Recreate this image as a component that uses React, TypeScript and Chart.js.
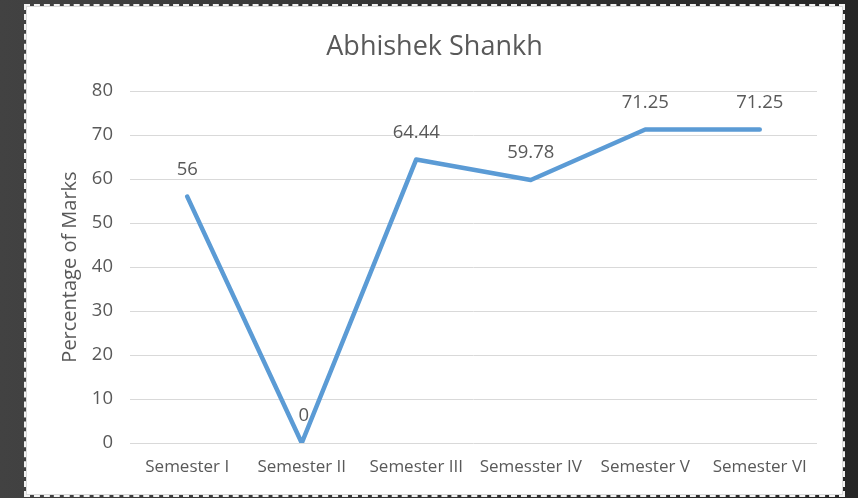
import React, { useEffect, useRef } from "react";
import { Chart, registerables } from "chart.js";

Chart.register(...registerables);

const chartTitle = "Abhishek Shankh";
const yAxisTitle = "Percentage of Marks";
const semesters = ["Semester I", "Semester II", "Semester III", "Semesster IV", "Semester V", "Semester VI"];
const marks = [56, 0, 64.44, 59.78, 71.25, 71.25];
const yMin = 0;
const yMax = 80;
const yStep = 10;

const FONT = "'Open Sans', 'Noto Sans', sans-serif";
const TEXT = "#595959";

const W = 815;
const H = 487;

const labelsPlugin = {
  id: "valueLabels",
  afterDraw(chart: any) {
    const ctx = chart.ctx;
    ctx.save();
    // title
    ctx.fillStyle = TEXT;
    ctx.font = `27px ${FONT}`;
    ctx.textAlign = "center";
    ctx.textBaseline = "middle";
    ctx.fillText(chartTitle, chart.width / 2, 40);
    // data labels
    ctx.font = `18.5px ${FONT}`;
    const meta = chart.getDatasetMeta(0);
    meta.data.forEach((pt: any, i: number) => {
      const v = chart.data.datasets[0].data[i];
      ctx.fillText(String(v), pt.x + (v === 0 ? 2 : 0), pt.y - 27);
    });
    ctx.restore();
  },
};

export default function App() {
  const ref = useRef<HTMLCanvasElement | null>(null);
  useEffect(() => {
    if (!ref.current) return;
    const chart = new Chart(ref.current, {
      type: "line",
      data: {
        labels: semesters,
        datasets: [
          {
            data: marks,
            borderColor: "#5B9BD5",
            backgroundColor: "#5B9BD5",
            borderWidth: 4.5,
            pointRadius: 0,
            tension: 0,
            borderJoinStyle: "round",
            borderCapStyle: "round",
            fill: false,
          },
        ],
      },
      options: {
        responsive: false,
        animation: false,
        layout: { padding: { left: 0, right: 25, top: 84, bottom: 0 } },
        plugins: {
          legend: { display: false },
          title: { display: false },
          tooltip: { enabled: false },
        },
        scales: {
          x: {
            offset: true,
            grid: { display: false, drawTicks: false },
            border: { display: false },
            ticks: {
              color: TEXT,
              font: { family: FONT, size: 17 },
              padding: 14,
              maxRotation: 0,
              autoSkip: false,
            },
            afterFit(scale: any) {
              scale.height = 51;
            },
          },
          y: {
            min: yMin,
            max: yMax,
            grid: { color: "#d9d9d9", lineWidth: 1, drawTicks: false },
            border: { display: false },
            ticks: {
              stepSize: yStep,
              color: TEXT,
              font: { family: FONT, size: 18.5 },
              padding: 17,
            },
            title: {
              display: true,
              text: yAxisTitle,
              color: TEXT,
              font: { family: FONT, size: 20, weight: "normal" },
              padding: { top: 31, bottom: 0 },
            },
            afterFit(scale: any) {
              scale.width = 103;
            },
          },
        },
      },
      plugins: [labelsPlugin],
    } as any);
    return () => chart.destroy();
  }, []);

  return (
    <div
      style={{
        position: "fixed",
        inset: 0,
        background: "linear-gradient(90deg, #424242 0%, #333333 50%, #262626 100%)",
      }}
    >
      <div
        style={{
          position: "absolute",
          left: 27,
          top: 7,
          width: W,
          height: H,
          background: "#ffffff",
          boxShadow: "0 0 0 1px #d9d9d9",
          outline: "2px dashed #f2f2f2",
          outlineOffset: 1,
        }}
      >
        <canvas ref={ref} width={W} height={H} style={{ display: "block" }} />
      </div>
    </div>
  );
}
